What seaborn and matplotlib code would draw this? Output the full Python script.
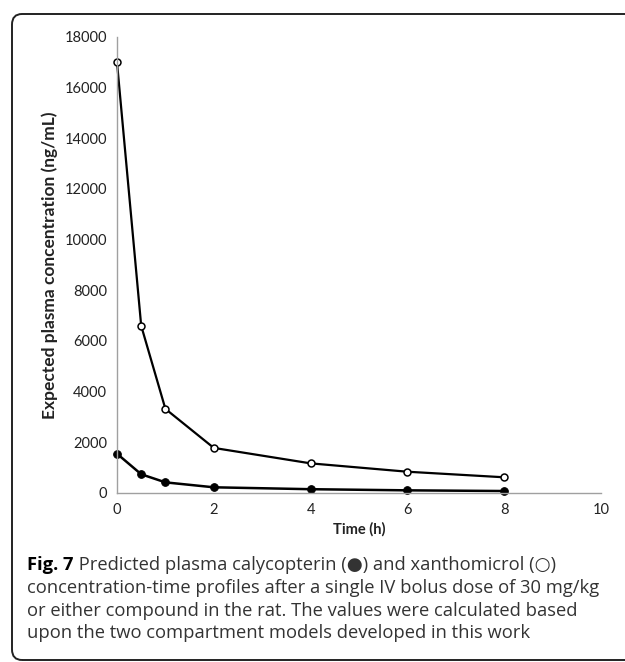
import numpy as np
import pandas as pd
import matplotlib
matplotlib.use("Agg")
import matplotlib.pyplot as plt
from matplotlib.patches import FancyBboxPatch
import seaborn as sns

# values
time_h = [0, 0.5, 1, 2, 4, 6, 8]
xanthomicrol = [17000, 6600, 3320, 1780, 1170, 840, 620]
calycopterin = [1550, 740, 420, 225, 150, 105, 78]

y_ticks = list(range(0, 18001, 2000))
x_ticks = list(range(0, 11, 2))

caption_bold = "Fig. 7"
caption_lines = [
    " Predicted plasma calycopterin (\u25cf) and xanthomicrol (\u25cb)",
    "concentration-time profiles after a single IV bolus dose of 30 mg/kg",
    "or either compound in the rat. The values were calculated based",
    "upon the two compartment models developed in this work",
]

df = pd.DataFrame({
    "time": time_h * 2,
    "conc": xanthomicrol + calycopterin,
    "compound": ["xanthomicrol"] * len(time_h) + ["calycopterin"] * len(time_h),
})

sns.set_style("white")
plt.rcParams["font.family"] = ["Open Sans", "DejaVu Sans"]
tick_font = ["Lato", "DejaVu Sans"]

W, H = 625, 662
fig = plt.figure(figsize=(W / 100, H / 100), dpi=100)
ax = fig.add_axes([117 / W, 1 - 493 / H, (601 - 117) / W, (493 - 37) / H])

sns.lineplot(data=df[df.compound == "xanthomicrol"], x="time", y="conc", ax=ax,
             color="black", linewidth=1.6, marker="o", markersize=5,
             markerfacecolor="white", markeredgecolor="black", markeredgewidth=1.1)
sns.lineplot(data=df[df.compound == "calycopterin"], x="time", y="conc", ax=ax,
             color="black", linewidth=1.8, marker="o", markersize=5.5,
             markerfacecolor="black", markeredgecolor="black")

ax.set_xlim(0, 10)
ax.set_ylim(0, 18000)
ax.set_xticks(x_ticks)
ax.set_yticks(y_ticks)
ax.set_xticklabels([str(t) for t in x_ticks])
ax.set_yticklabels([str(t) for t in y_ticks])
ax.tick_params(axis="both", direction="out", length=4, width=0.8, color="#a0a0a0",
               labelsize=10.5, labelcolor="#222222", pad=3)
for lab in ax.get_xticklabels() + ax.get_yticklabels():
    lab.set_family(tick_font)
ax.set_xlabel("Time (h)", fontsize=10.5, fontweight="bold", family=tick_font,
              labelpad=4, color="#222222")
ax.set_ylabel("Expected plasma concentration (ng/mL)", fontsize=12.5, fontweight="bold",
              family=tick_font, labelpad=5, color="#222222")
for side in ["top", "right"]:
    ax.spines[side].set_visible(False)
for side in ["left", "bottom"]:
    ax.spines[side].set_color("#a0a0a0")
    ax.spines[side].set_linewidth(1.0)
for ln in ax.lines:
    ln.set_clip_on(False)

# rounded frame around figure + caption (right side runs off the image)
frame = FancyBboxPatch((12 / W, 2 / H), 1.2, (660 - 14) / H,
                       boxstyle="round,pad=0,rounding_size=0.016",
                       transform=fig.transFigure, fill=False,
                       edgecolor="#222222", linewidth=1.4, clip_on=False)
fig.patches.append(frame)

# caption
cap_size = 13.2
t = fig.text(27 / W, 1 - 565 / H, caption_bold, fontsize=cap_size, fontweight="bold",
             va="center", ha="left", color="black")
fig.canvas.draw()
x_after = t.get_window_extent().x1 / fig.bbox.width
fig.text(x_after, 1 - 565 / H, caption_lines[0], fontsize=cap_size,
         va="center", ha="left", color="#333333")
for i, line in enumerate(caption_lines[1:]):
    fig.text(27 / W, 1 - (588 + 22.7 * i) / H, line, fontsize=cap_size,
             va="center", ha="left", color="#333333")

fig.savefig("out.png", dpi=100)
